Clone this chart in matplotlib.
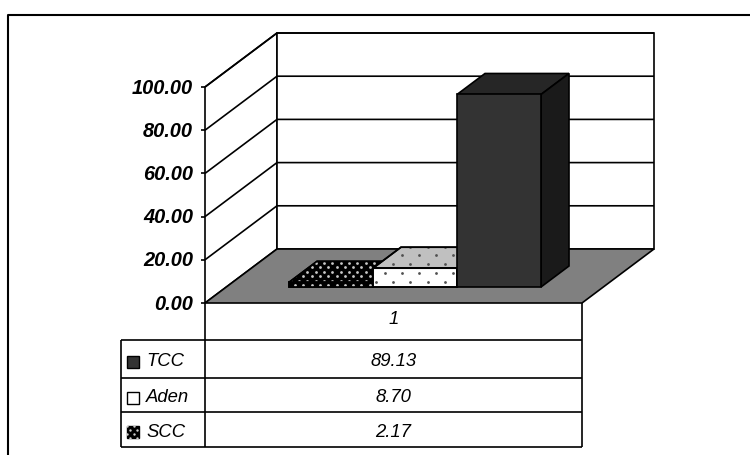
#!/usr/bin/env python3
# -*- coding: utf-8 -*-

import matplotlib
matplotlib.use("Agg")
import matplotlib.pyplot as plt
import numpy as np
from matplotlib.patches import Polygon, Rectangle

plt.rcParams["font.family"] = ["Liberation Sans", "DejaVu Sans"]

series = ["SCC", "Aden", "TCC"]
values = [2.17, 8.70, 89.13]
table_rows = ["TCC", "Aden", "SCC"]
table_text = ["89.13", "8.70", "2.17"]
y_ticks = [0, 20, 40, 60, 80, 100]
category = "1"

# pseudo-3d layout in pixels
X0, X1 = 205, 582
Y0 = 303
PX_PER_UNIT = 2.16
DX, DY = 72, -54
BAR_W = 84
BAR_LEFT = 289
BAR_BASE = 287
BAR_DX, BAR_DY = 28, -21
GREY = "#808080"


def val_y(v):
    return Y0 - v * PX_PER_UNIT


def poly(ax, pts, fc, lw=1.2, ec="black", z=2):
    p = Polygon(pts, closed=True, facecolor=fc, edgecolor=ec, linewidth=lw, zorder=z)
    ax.add_patch(p)
    return p


def hline(ax, x, y, lw=1.2, color="black", z=1):
    ax.plot(x, y, color=color, lw=lw, solid_capstyle="butt", zorder=z)


def dot_fill(ax, patch, x0, y0, step_x, step_y, color, size, z):
    # staggered dot pattern clipped to a patch
    xa, ya, w, h = patch.get_extents().transformed(ax.transData.inverted()).bounds
    ya, yb = min(ya, ya + h), max(ya, ya + h)
    xs, ys = [], []
    rows = np.arange(np.floor((ya - y0) / step_y) - 1, np.ceil((yb - y0) / step_y) + 2)
    cols = np.arange(np.floor((xa - x0) / step_x) - 1, np.ceil((xa + w - x0) / step_x) + 2)
    for r in rows:
        for c in cols:
            xs.append(x0 + (c + 0.5 * (int(r) % 2)) * step_x)
            ys.append(y0 + r * step_y)
    dots = ax.scatter(xs, ys, s=size, c=color, linewidths=0, zorder=z)
    dots.set_clip_path(patch)


def draw_bar(ax, left, v, front, top, side, dots=None, z=3):
    right = left + BAR_W
    ytop = BAR_BASE - v * PX_PER_UNIT
    faces = [
        ([(left, ytop), (right, ytop), (right + BAR_DX, ytop + BAR_DY), (left + BAR_DX, ytop + BAR_DY)], top),
        ([(right, ytop), (right + BAR_DX, ytop + BAR_DY), (right + BAR_DX, BAR_BASE + BAR_DY), (right, BAR_BASE)], side),
        ([(left, ytop), (right, ytop), (right, BAR_BASE), (left, BAR_BASE)], front),
    ]
    for pts, fc in faces:
        p = poly(ax, pts, fc, z=z)
        if dots:
            dot_fill(ax, p, *dots, z=z + 0.1)
            ax.add_patch(Polygon(pts, closed=True, fill=False, edgecolor="black", linewidth=1.2, zorder=z + 0.2))


def main():
    fig = plt.figure(figsize=(7.5, 4.55), dpi=100)
    ax = fig.add_axes([0, 0, 1, 1])
    ax.set_xlim(0, 750)
    ax.set_ylim(455, 0)
    ax.axis("off")
    fig.canvas.draw()

    # chart frame, only the top and left edges fall inside the image
    hline(ax, [8, 8, 750], [455, 14.5, 14.5], lw=1.5)

    # walls and floor
    top = val_y(y_ticks[-1])
    poly(ax, [(X0, Y0), (X0 + DX, Y0 + DY), (X0 + DX, top + DY), (X0, top)], "white", z=1)
    poly(ax, [(X0 + DX, Y0 + DY), (X1 + DX, Y0 + DY), (X1 + DX, top + DY), (X0 + DX, top + DY)], "white", z=1)
    poly(ax, [(X0, Y0), (X1, Y0), (X1 + DX, Y0 + DY), (X0 + DX, Y0 + DY)], GREY, z=2)

    # gridlines, ticks and labels
    for t in y_ticks:
        y = val_y(t)
        hline(ax, [X0 - 4, X0], [y, y])
        ax.text(X0 - 12, y + 1, f"{t:.2f}", ha="right", va="center", fontsize=14.4,
                fontstyle="italic", fontweight="bold")
        if t > 0:
            hline(ax, [X0, X0 + DX, X1 + DX], [y, y + DY, y + DY])

    # bars left to right, each one overlaps the previous
    left = BAR_LEFT
    draw_bar(ax, left, values[0], "black", "black", "black", dots=(295, 285, 8.3, 4.4, "#c8c8c8", 4), z=3)
    left += BAR_W
    draw_bar(ax, left, values[1], "white", "#c0c0c0", "#c0c0c0", dots=(376, 281.8, 17.2, 8.8, "#505050", 4), z=4)
    left += BAR_W
    draw_bar(ax, left, values[2], "#333333", "#262626", "#1a1a1a", z=5)

    # data table below the floor
    row_y = [340, 377.5, 412, 446.5]
    hline(ax, [X0, X0], [Y0, row_y[-1]], z=6)
    hline(ax, [X1, X1], [Y0, row_y[-1]], z=6)
    hline(ax, [121, 121], [row_y[0], row_y[-1]], z=6)
    for y in row_y:
        hline(ax, [121, X1], [y, y], z=6)
    ax.text((X0 + X1) / 2, 320, category, ha="center", va="center", fontsize=13.3, fontstyle="italic")

    swatch_fill = ["#333333", "white", "black"]
    for i, name in enumerate(table_rows):
        cy = (row_y[i] + row_y[i + 1]) / 2 + 3
        sw = Rectangle((126.5, cy - 6), 12, 12, facecolor=swatch_fill[i], edgecolor="black", lw=1, zorder=7)
        ax.add_patch(sw)
        if name == "SCC":
            dot_fill(ax, sw, 130, cy - 2, 7, 4, "#d0d0d0", 3, z=7.1)
        ax.text(146, cy, name, ha="left", va="center", fontsize=13.3, fontstyle="italic")
        ax.text((X0 + X1) / 2, cy, table_text[i], ha="center", va="center", fontsize=13.3, fontstyle="italic")

    fig.savefig("out.png", dpi=100)
    plt.close(fig)


if __name__ == "__main__":
    main()
